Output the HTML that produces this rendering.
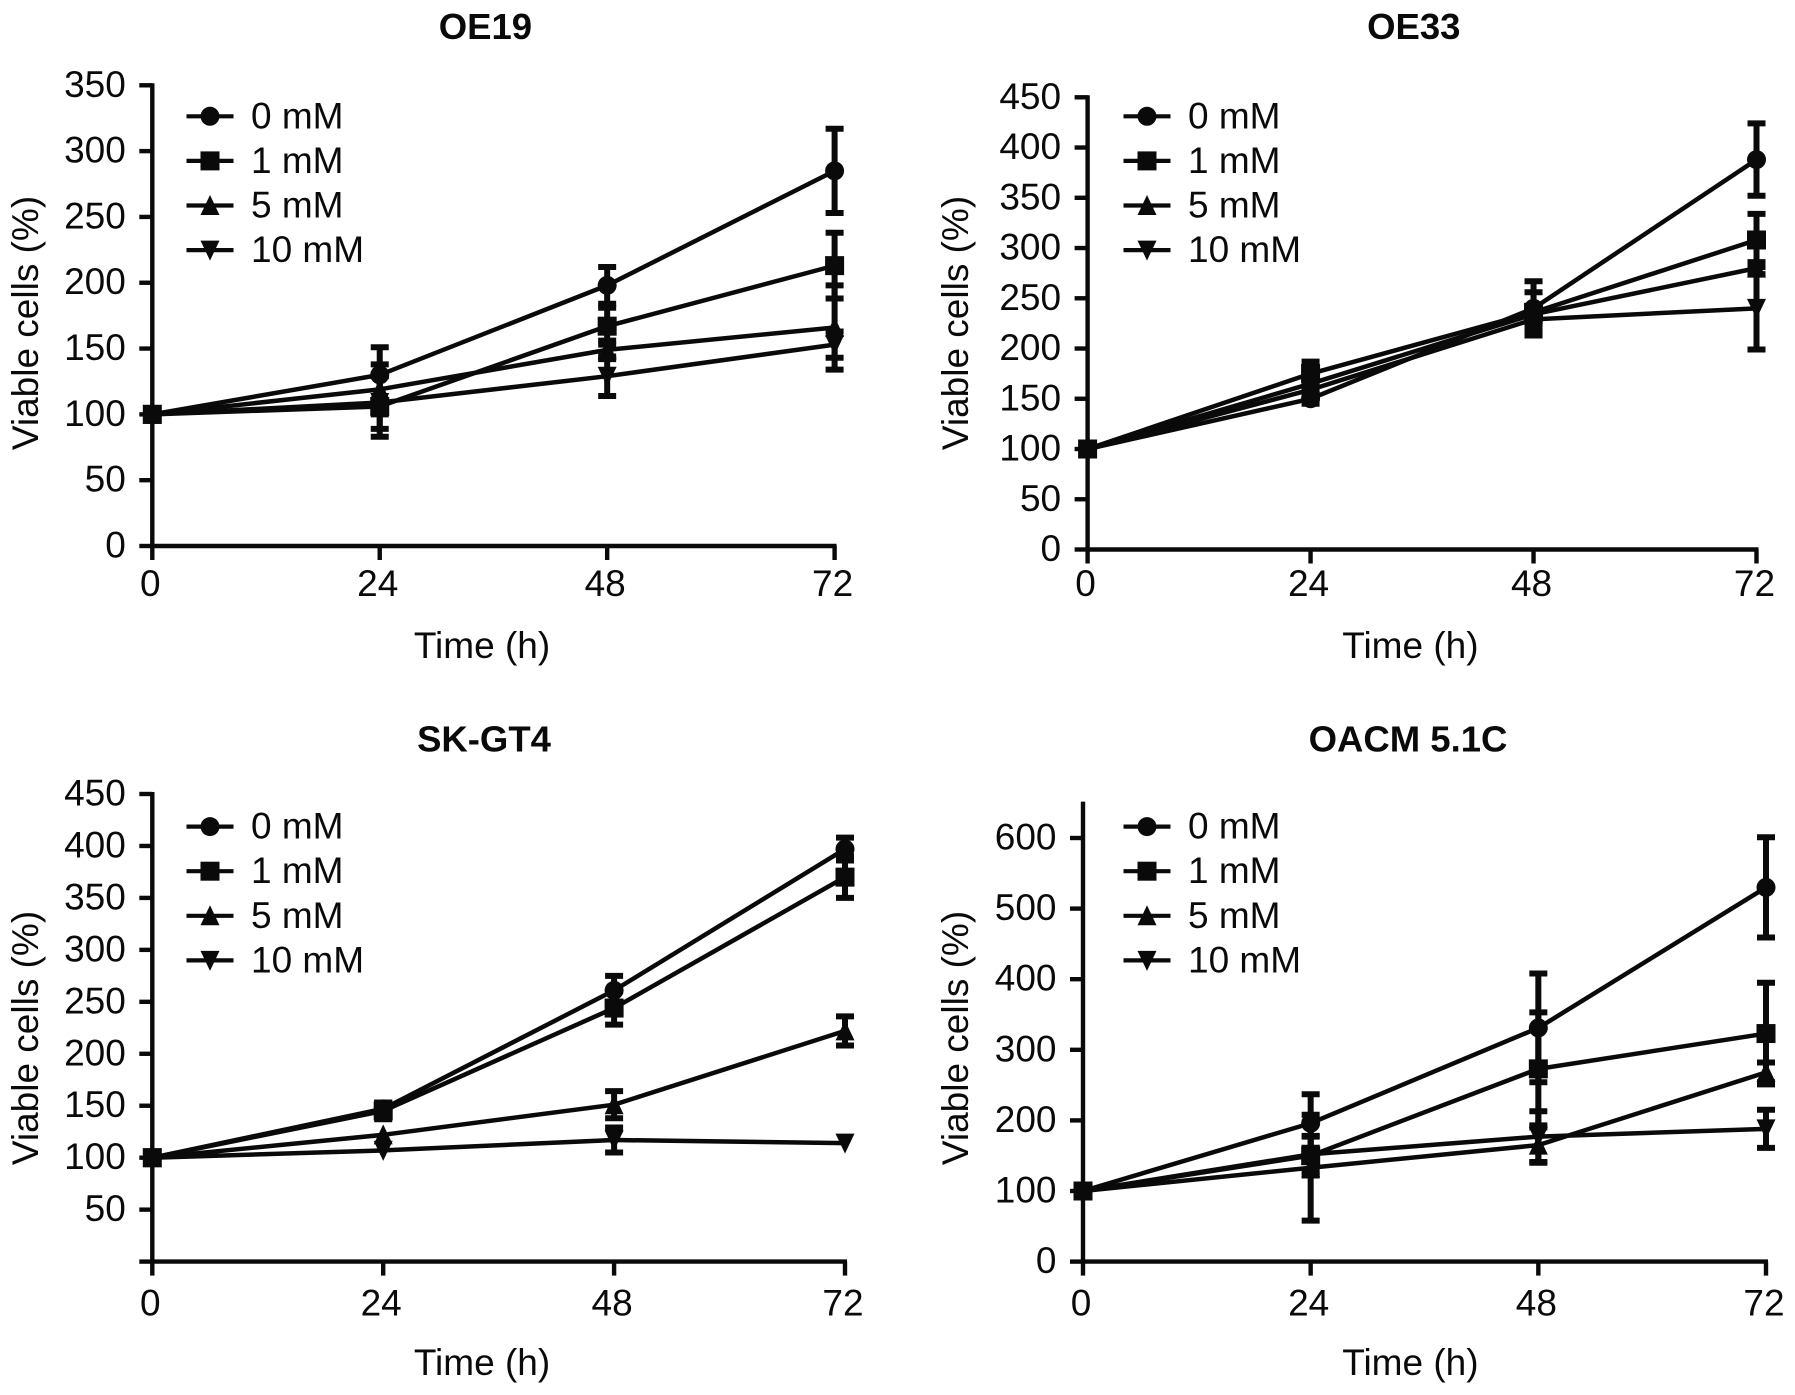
<!DOCTYPE html>
<html lang="en">
<head>
<meta charset="utf-8">
<title>Viable cells over time</title>
<style>
html,body{margin:0;padding:0;background:#fff;width:1795px;height:1395px;overflow:hidden}
svg{display:block}
text{font-family:"Liberation Sans",sans-serif;fill:#0a0a0a}
.tick{font-size:37px}
.legend{font-size:37px}
.axis-title{font-size:37px}
.panel-title{font-size:36.5px;font-weight:bold}
</style>
</head>
<body>
<svg id="figure" xmlns="http://www.w3.org/2000/svg" width="1795" height="1395" viewBox="0 0 1795 1395"></svg>
<script>
const timePoints = [0, 24, 48, 72];
const doseLabels = ['0 mM', '1 mM', '5 mM', '10 mM'];
const markerShapes = ['circle', 'square', 'triangle', 'inverted'];

const oe19Ticks = [0, 50, 100, 150, 200, 250, 300, 350];
const oe19Labels = ['0', '50', '100', '150', '200', '250', '300', '350'];
const oe19Dose0 = [100, 130, 198, 285];
const oe19Dose1 = [100, 106, 167, 213];
const oe19Dose5 = [100, 119, 149, 166];
const oe19Dose10 = [100, 109, 129, 153];
const oe19Err0 = [0, 21, 14, 32];
const oe19Err1 = [0, 23, 14, 25];
const oe19Err5 = [0, 19, 7, 32];
const oe19Err10 = [0, 20, 15, 10];

const oe33Ticks = [0, 50, 100, 150, 200, 250, 300, 350, 400, 450];
const oe33Labels = ['0', '50', '100', '150', '200', '250', '300', '350', '400', '450'];
const oe33Dose0 = [100, 150, 240, 388];
const oe33Dose1 = [100, 175, 236, 308];
const oe33Dose5 = [100, 165, 234, 280];
const oe33Dose10 = [100, 159, 229, 240];
const oe33Err0 = [0, 5, 27, 36];
const oe33Err1 = [0, 12, 20, 26];
const oe33Err5 = [0, 6, 8, 6];
const oe33Err10 = [0, 6, 8, 41];

const skTicks = [0, 50, 100, 150, 200, 250, 300, 350, 400, 450];
const skLabels = ['', '50', '100', '150', '200', '250', '300', '350', '400', '450'];
const skDose0 = [100, 147, 261, 397];
const skDose1 = [100, 145, 244, 370];
const skDose5 = [100, 122, 151, 222];
const skDose10 = [100, 107, 117, 114];
const skErr0 = [0, 6, 14, 11];
const skErr1 = [0, 8, 16, 20];
const skErr5 = [0, 0, 13, 14];
const skErr10 = [0, 0, 12, 0];

const oacmTicks = [0, 100, 200, 300, 400, 500, 600];
const oacmLabels = ['0', '100', '200', '300', '400', '500', '600'];
const oacmDose0 = [100, 196, 331, 530];
const oacmDose1 = [100, 150, 273, 323];
const oacmDose5 = [100, 133, 165, 268];
const oacmDose10 = [100, 152, 177, 188];
const oacmErr0 = [0, 41, 77, 71];
const oacmErr1 = [0, 28, 80, 72];
const oacmErr5 = [0, 75, 25, 14];
const oacmErr10 = [0, 25, 36, 27];

const panels = [
  {key:'oe19', title:'OE19', ticks:oe19Ticks, labels:oe19Labels, values:[oe19Dose0,oe19Dose1,oe19Dose5,oe19Dose10], errors:[oe19Err0,oe19Err1,oe19Err5,oe19Err10], yTop:350,
   left:152.3, right:834.6, bottom:546, top:85.3, axisTop:85.3, titleX:485.4, titleY:39, xTitleX:482, xTitleY:658, xTickY:596, yTitleX:38, yTitleY:323, legendMarkerX:210, legendY:116.3},
  {key:'oe33', title:'OE33', ticks:oe33Ticks, labels:oe33Labels, values:[oe33Dose0,oe33Dose1,oe33Dose5,oe33Dose10], errors:[oe33Err0,oe33Err1,oe33Err5,oe33Err10], yTop:450,
   left:1087.6, right:1756.5, bottom:549.5, top:97.3, axisTop:97.3, titleX:1413.8, titleY:39, xTitleX:1410.4, xTitleY:658, xTickY:596, yTitleX:968, yTitleY:323, legendMarkerX:1147, legendY:116.3},
  {key:'sk-gt4', title:'SK-GT4', ticks:skTicks, labels:skLabels, values:[skDose0,skDose1,skDose5,skDose10], errors:[skErr0,skErr1,skErr5,skErr10], yTop:450,
   left:152.3, right:845, bottom:1261.6, top:794, axisTop:794, titleX:484, titleY:751.5, xTitleX:482, xTitleY:1375, xTickY:1315.5, yTitleX:38, yTitleY:1038, legendMarkerX:210, legendY:826.6},
  {key:'oacm', title:'OACM 5.1C', ticks:oacmTicks, labels:oacmLabels, values:[oacmDose0,oacmDose1,oacmDose5,oacmDose10], errors:[oacmErr0,oacmErr1,oacmErr5,oacmErr10], yTop:600,
   left:1083, right:1766, bottom:1261.6, top:838, axisTop:803.6, titleX:1408, titleY:751.5, xTitleX:1410.4, xTitleY:1375, xTickY:1315.5, yTitleX:968, yTitleY:1038, legendMarkerX:1147, legendY:826.6}
];

const SVGNS = 'http://www.w3.org/2000/svg';
const figure = document.getElementById('figure');

function make(tag, attrs, parent, content) {
  const node = document.createElementNS(SVGNS, tag);
  Object.keys(attrs).forEach(function (k) { node.setAttribute(k, attrs[k]); });
  if (content !== undefined) node.textContent = content;
  parent.appendChild(node);
  return node;
}

function drawMarker(parent, shape, cx, cy) {
  const s = 9.5;
  let node;
  if (shape === 'circle') {
    node = make('circle', {cx: cx, cy: cy, r: s, fill: '#0a0a0a'}, parent);
  } else if (shape === 'square') {
    node = make('rect', {x: cx - s, y: cy - s, width: 2 * s, height: 2 * s, fill: '#0a0a0a'}, parent);
  } else if (shape === 'triangle') {
    node = make('polygon', {points: [cx, cy - s - 1, cx + s, cy + s, cx - s, cy + s].join(','), fill: '#0a0a0a'}, parent);
  } else {
    node = make('polygon', {points: [cx, cy + s + 1, cx + s, cy - s, cx - s, cy - s].join(','), fill: '#0a0a0a'}, parent);
  }
  
  
}

panels.forEach(function (p) {
  const scaleX = function (t) { return p.left + (t - timePoints[0]) / (timePoints[timePoints.length - 1] - timePoints[0]) * (p.right - p.left); };
  const scaleY = function (v) { return p.bottom - v / p.yTop * (p.bottom - p.top); };

  const g = make('g', {}, figure);
  
  

  const title = make('text', {x: p.titleX, y: p.titleY, 'text-anchor': 'middle', class: 'panel-title'}, g, p.title);
  
  

  const axes = make('g', {stroke: '#0a0a0a', 'stroke-width': 4.4, fill: 'none'}, g);
  
  
  const yAxis = make('line', {x1: p.left, x2: p.left, y1: p.axisTop - 2, y2: p.bottom + 2}, axes);
  
  
  const xAxis = make('line', {x1: p.left - 2, x2: p.right + 2, y1: p.bottom, y2: p.bottom}, axes);
  
  

  p.ticks.forEach(function (v, i) {
    const y = scaleY(v);
    const tick = make('line', {x1: p.left - 13, x2: p.left, y1: y, y2: y}, axes);
    
    
    const label = make('text', {x: p.left - 26.5, y: y + 11.5, 'text-anchor': 'end', class: 'tick'}, g, p.labels[i]);
    
    
  });
  timePoints.forEach(function (t) {
    const x = scaleX(t);
    const tick = make('line', {x1: x, x2: x, y1: p.bottom, y2: p.bottom + 14}, axes);
    
    
    const label = make('text', {x: x - 2, y: p.xTickY, 'text-anchor': 'middle', class: 'tick'}, g, String(t));
    
    
  });

  const xTitle = make('text', {x: p.xTitleX, y: p.xTitleY, 'text-anchor': 'middle', class: 'axis-title'}, g, 'Time (h)');
  
  
  const yTitle = make('text', {x: 0, y: 0, 'text-anchor': 'middle', class: 'axis-title', transform: 'translate(' + p.yTitleX + ',' + p.yTitleY + ') rotate(-90)'}, g, 'Viable cells (%)');
  
  

  p.values.forEach(function (series, si) {
    const sg = make('g', {}, g);
    
    
    const line = make('polyline', {
      points: series.map(function (v, i) { return scaleX(timePoints[i]) + ',' + scaleY(v); }).join(' '),
      fill: 'none', stroke: '#0a0a0a', 'stroke-width': 4.5, 'stroke-linejoin': 'round'
    }, sg);
    
    
    series.forEach(function (v, i) {
      const x = scaleX(timePoints[i]);
      const err = p.errors[si][i];
      if (err > 0) {
        const hi = scaleY(v + err);
        const lo = scaleY(v - err);
        const bar = make('path', {
          d: 'M' + x + ' ' + hi + 'V' + lo + 'M' + (x - 9) + ' ' + hi + 'H' + (x + 9) + 'M' + (x - 9) + ' ' + lo + 'H' + (x + 9),
          stroke: '#0a0a0a', 'stroke-width': 6, fill: 'none'
        }, sg);
        
        
      }
      drawMarker(sg, markerShapes[si], x, scaleY(v));
    });
  });

  doseLabels.forEach(function (name, i) {
    const y = p.legendY + i * 44.6;
    const entry = make('g', {}, g);
    
    
    make('line', {x1: p.legendMarkerX - 23.5, x2: p.legendMarkerX + 23.5, y1: y, y2: y, stroke: '#0a0a0a', 'stroke-width': 4.2}, entry);
    drawMarker(entry, markerShapes[i], p.legendMarkerX, y);
    const label = make('text', {x: p.legendMarkerX + 41, y: y + 12, class: 'legend'}, entry, name);
    
    
  });
});
</script>
</body>
</html>
